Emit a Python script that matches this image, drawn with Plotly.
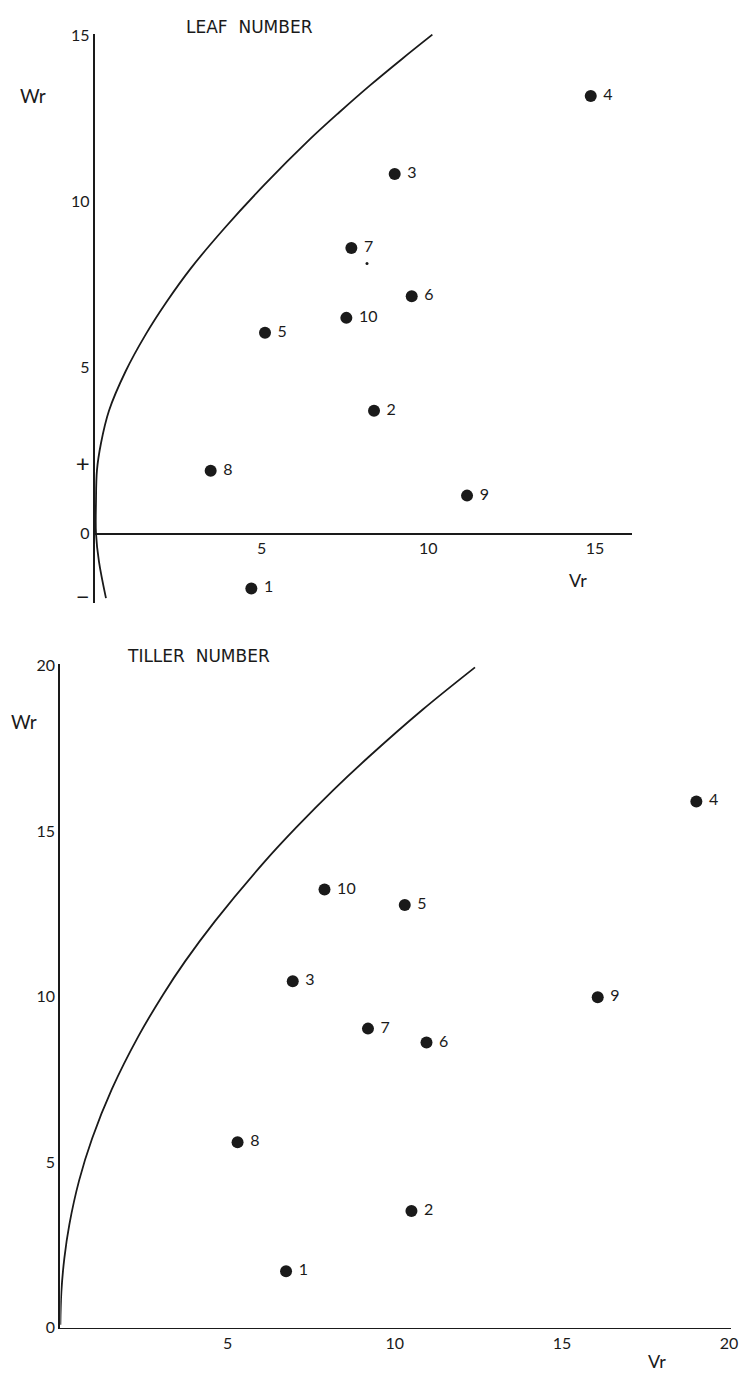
import plotly.graph_objects as go

W, H = 748, 1385

# ---------------- data ----------------
point_labels = ["1", "2", "3", "4", "5", "6", "7", "8", "9", "10"]

leaf_vr = [4.69, 8.37, 8.99, 14.87, 5.10, 9.50, 7.69, 3.47, 11.16, 7.54]
leaf_wr = [-1.67, 3.69, 10.83, 13.18, 6.04, 7.14, 8.60, 1.88, 1.13, 6.49]
leaf_speck_vr = [8.16]
leaf_speck_wr = [8.13]
leaf_curve_vr = [0.33, 0.12, 0.03, 0.03, 0.06, 0.18, 0.42, 0.92, 1.51, 2.14, 2.88, 3.89,
                 5.07, 6.44, 7.33, 8.25, 9.20, 10.12]
leaf_curve_wr = [-1.96, -0.86, 0.0, 0.92, 1.90, 2.71, 3.69, 4.88, 5.97, 6.96, 7.99, 9.20,
                 10.49, 11.87, 12.69, 13.50, 14.29, 15.03]

tiller_vr = [6.75, 10.50, 6.95, 19.02, 10.30, 10.95, 9.20, 5.30, 16.07, 7.90]
tiller_wr = [1.70, 3.52, 10.46, 15.89, 12.76, 8.61, 9.03, 5.60, 9.98, 13.23]
tiller_curve_vr = [0.0, 0.03, 0.12, 0.27, 0.56, 0.95, 1.54, 2.34, 3.08, 3.73, 4.62, 6.09,
                   7.07, 8.17, 9.26, 10.83, 12.40]
tiller_curve_wr = [0.09, 1.07, 2.10, 3.12, 4.44, 5.71, 7.20, 8.81, 10.07, 11.06, 12.27, 14.05,
                   15.12, 16.24, 17.27, 18.66, 19.94]

leaf_xticks = [5, 10, 15]
leaf_yticks = [-2, 0, 2, 5, 10, 15]
leaf_yticktext = ['<span style="font-size:24px">\u2212</span>', "0",
                  '<span style="font-size:24px">+</span>', "5", "10", "15"]
tiller_xticks = [5, 10, 15, 20]
tiller_yticks = [0, 5, 10, 15, 20]

# ---------------- layout geometry (pixels) ----------------
FONT = "Lato, 'Open Sans', sans-serif"
TFONT = "'DejaVu Sans', sans-serif"
INK = "#1a1a1a"

# top panel
t_px0, t_sx, t_xmax = 96, 33.7, 16.1
t_py0, t_sy, t_ymin, t_ymax = 531, 33.6, -2.1, 15.05
t_xdom = [t_px0 / W, (t_px0 + t_xmax * t_sx) / W]
t_ydom = [(H - (t_py0 - t_ymin * t_sy)) / H, (H - (t_py0 - t_ymax * t_sy)) / H]
t_xpos = (H - t_py0) / H

# bottom panel
b_px0, b_sx, b_xmax = 61, 33.8, 20.05
b_py0, b_sy, b_ymax = 1336, 33.55, 20.05
b_xdom = [b_px0 / W, (b_px0 + b_xmax * b_sx) / W]
b_ydom = [(H - b_py0) / H, (H - (b_py0 - b_ymax * b_sy)) / H]

fig = go.Figure()

lbl_text = ["\u00a0" + s for s in point_labels]
curve_line = dict(color=INK, width=1.8, shape="spline", smoothing=1.0)

# top: curve, points
fig.add_trace(go.Scatter(x=leaf_curve_vr, y=leaf_curve_wr, mode="lines", line=curve_line,
                         xaxis="x", yaxis="y", hoverinfo="skip"))
fig.add_trace(go.Scatter(x=leaf_vr, y=leaf_wr, mode="markers+text", text=lbl_text,
                         textposition="middle right",
                         textfont=dict(family=FONT, size=16, color=INK),
                         marker=dict(color=INK, size=12),
                         xaxis="x", yaxis="y", cliponaxis=False))
fig.add_trace(go.Scatter(x=leaf_speck_vr, y=leaf_speck_wr, mode="markers",
                         marker=dict(color=INK, size=3), xaxis="x", yaxis="y"))

# bottom: curve, points
fig.add_trace(go.Scatter(x=tiller_curve_vr, y=tiller_curve_wr, mode="lines", line=curve_line,
                         xaxis="x2", yaxis="y2", hoverinfo="skip"))
fig.add_trace(go.Scatter(x=tiller_vr, y=tiller_wr, mode="markers+text", text=lbl_text,
                         textposition="middle right",
                         textfont=dict(family=FONT, size=16, color=INK),
                         marker=dict(color=INK, size=12),
                         xaxis="x2", yaxis="y2", cliponaxis=False))

axis_common = dict(showgrid=False, zeroline=False, showline=True, linecolor=INK,
                   ticks="", tickfont=dict(family=FONT, size=16, color=INK),
                   fixedrange=True)

fig.update_layout(
    width=W, height=H,
    margin=dict(l=0, r=0, t=0, b=0),
    paper_bgcolor="white", plot_bgcolor="white",
    showlegend=False,
    xaxis=dict(axis_common, domain=t_xdom, range=[0, t_xmax], anchor="free",
               position=t_xpos, linewidth=1.8,
               tickmode="array", tickvals=leaf_xticks,
               ticktext=[str(v) for v in leaf_xticks]),
    yaxis=dict(axis_common, domain=t_ydom, range=[t_ymin, t_ymax], anchor="x",
               linewidth=2.2, tickmode="array", tickvals=leaf_yticks,
               ticktext=leaf_yticktext),
    xaxis2=dict(axis_common, domain=b_xdom, range=[0, b_xmax], anchor="y2",
                linewidth=1.8, tickmode="array", tickvals=tiller_xticks,
                ticktext=[str(v) for v in tiller_xticks]),
    yaxis2=dict(axis_common, domain=b_ydom, range=[0, b_ymax], anchor="x2",
                linewidth=2.2, tickmode="array", tickvals=tiller_yticks,
                ticktext=[str(v) for v in tiller_yticks]),
)


def label(text, px, py, size=16, family=FONT):
    fig.add_annotation(text=text, x=px / W, y=1 - py / H, xref="paper", yref="paper",
                       xanchor="center", yanchor="middle", showarrow=False,
                       font=dict(family=family, size=size, color=INK))


label("LEAF\u00a0\u00a0NUMBER", 252, 18, 17, TFONT)
label("Wr", 33, 88, 19)
label("Vr", 584, 579, 18)
label("TILLER\u00a0\u00a0NUMBER", 201, 656, 17, TFONT)
label("Wr", 24, 722, 19)
label("Vr", 664, 1370, 18)

fig.write_html(
    "out.html",
    config={"displayModeBar": False, "staticPlot": True},
    post_script="document.body.style.margin='0';document.body.style.overflow='hidden';"
                "document.documentElement.style.overflow='hidden';",
)
